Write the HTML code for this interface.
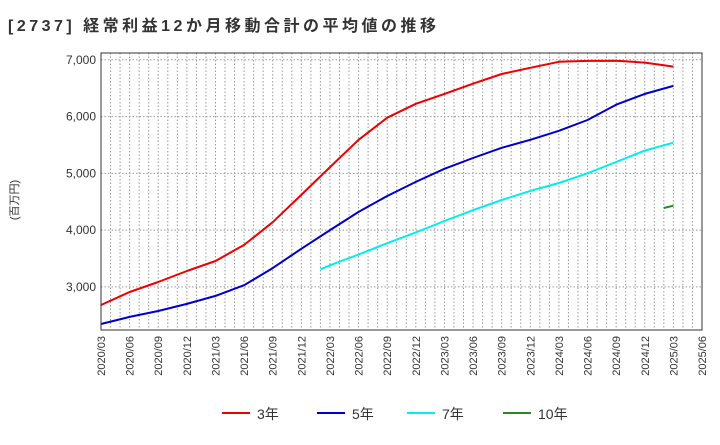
<!DOCTYPE html>
<html><head><meta charset="utf-8"><style>
body{margin:0;background:#fff;font-family:"Liberation Sans","Noto Sans CJK JP",sans-serif}
</style></head><body>
<svg width="720" height="440" xmlns="http://www.w3.org/2000/svg" font-family="Liberation Sans, Noto Sans CJK JP, sans-serif">
<text x="8" y="31" font-size="16" font-weight="bold" fill="#333" textLength="428" lengthAdjust="spacing">[2737]  経常利益12か月移動合計の平均値の推移</text>
<text transform="translate(18,200) rotate(-90)" font-size="11" fill="#333" text-anchor="middle">(百万円)</text>
<g id="grid"></g><g id="series"></g><g id="axes"></g>
<rect x="101" y="53" width="601" height="277" fill="none" stroke="#333" stroke-width="1"/>
<g id="legend"></g>
</svg>
<script>
const quarters=["2020/03","2020/06","2020/09","2020/12","2021/03","2021/06","2021/09","2021/12","2022/03","2022/06","2022/09","2022/12","2023/03","2023/06","2023/09","2023/12","2024/03","2024/06","2024/09","2024/12","2025/03","2025/06"];
const yTicks=[3000,4000,5000,6000,7000];
const s3=[2680,2910,3085,3280,3455,3740,4140,4620,5110,5590,5980,6225,6400,6580,6750,6860,6965,6980,6985,6950,6880];
const s5=[2345,2470,2575,2700,2840,3030,3330,3670,4000,4320,4600,4850,5080,5270,5450,5590,5750,5940,6210,6400,6540];
const s7Months=["2022/02","2022/03","2022/06","2022/09","2022/12","2023/03","2023/06","2023/09","2023/12","2024/03","2024/06","2024/09","2024/12","2025/03"];
const s7=[3310,3380,3570,3770,3960,4160,4350,4530,4690,4830,5000,5200,5400,5540];
const s10Months=["2025/02","2025/03"];
const s10=[4390,4430];
const NS="http://www.w3.org/2000/svg";
const X0=101,X1=702,Y0=2240,Y1=7120,PT=53,PB=330;
const xm=m=>X0+(X1-X0)*m/63;
const xd=s=>{const [a,b]=s.split('/').map(Number);return xm((a-2020)*12+(b-3));};
const y=v=>PB-(v-Y0)/(Y1-Y0)*(PB-PT);
function mk(t,a,p){const e=document.createElementNS(NS,t);for(const k in a)e.setAttribute(k,a[k]);p.appendChild(e);return e;}
const g=document.getElementById('grid'),ax=document.getElementById('axes'),sg=document.getElementById('series'),lg=document.getElementById('legend');
for(let m=1;m<63;m++){const l=mk('line',{x1:xm(m),x2:xm(m),y1:PT,y2:PB,stroke:'#999','stroke-dasharray':'1.5,2','stroke-width':1},g);

}
yTicks.forEach(v=>{const l=mk('line',{x1:X0,x2:X1,y1:y(v),y2:y(v),stroke:'#999','stroke-dasharray':'1.5,2'},g);


const t=mk('text',{x:X0-5,y:y(v)+4,'font-size':12,fill:'#333','text-anchor':'end'},ax);t.textContent=v.toLocaleString('en-US');

});
quarters.forEach((q,i)=>{const t=mk('text',{transform:`translate(${xd(q)+4},${PB+6}) rotate(-90)`,'font-size':11,fill:'#333','text-anchor':'end'},ax);t.textContent=q;

});
const series=[[s3,quarters,'#e00','3年','series-3y'],[s5,quarters,'#00c','5年','series-5y'],[s7,s7Months,'#0ee','7年','series-7y'],[s10,s10Months,'#228b22','10年','series-10y']];
series.forEach(([d,ms,c,n,id],k)=>{let pts=[];d.forEach((v,i)=>{pts.push(xd(ms[i]).toFixed(1)+','+y(v).toFixed(1));});
const p=mk('polyline',{points:pts.join(' '),fill:'none',stroke:c,'stroke-width':2,'stroke-linejoin':'round'},sg);


const lx=[222,317,407,503][k];
const ll=mk('line',{x1:lx,x2:lx+28,y1:413,y2:413,stroke:c,'stroke-width':2},lg);


const lt=mk('text',{x:lx+35,y:419,'font-size':14,fill:'#333'},lg);lt.textContent=n;

});
</script>
</body></html>
